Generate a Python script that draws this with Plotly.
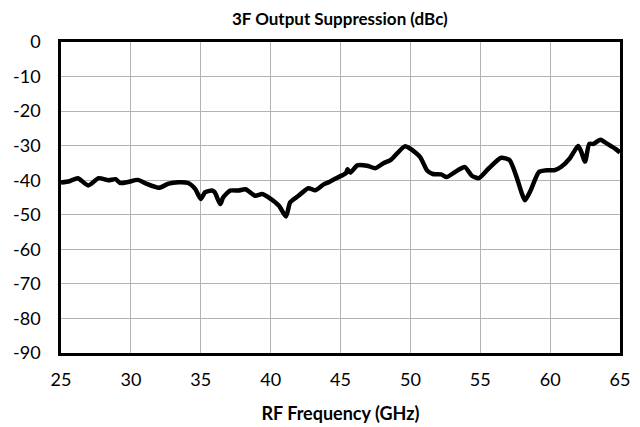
import plotly.graph_objects as go

freq_ghz = [25.0, 25.6, 26.2, 26.95, 27.7, 28.4, 28.9, 29.25, 29.8, 30.5, 31.1, 32.0, 32.7, 33.4,
            34.1, 34.6, 35.0, 35.3, 35.8, 36.0, 36.4, 36.6, 37.1, 37.7, 38.2, 38.9, 39.4, 40.0,
            40.6, 41.1, 41.4, 42.0, 42.7, 43.2, 43.8, 44.2, 44.8, 45.4, 45.5, 45.7, 46.2, 46.9,
            47.5, 48.1, 48.6, 49.6, 50.0, 50.7, 51.2, 51.6, 52.2, 52.6, 53.2, 53.9, 54.4, 54.9,
            55.6, 56.5, 57.1, 57.6, 58.2, 58.6, 59.2, 59.8, 60.3, 60.8, 61.4, 62.0, 62.2, 62.5,
            62.8, 63.1, 63.6, 64.1, 64.7, 65.0]
suppression_dbc = [-40.7, -40.3, -39.4, -41.5, -39.4, -40.0, -39.7, -40.8, -40.5, -39.9, -41.0, -42.2, -41.0, -40.6,
                   -40.8, -42.5, -45.4, -43.5, -43.0, -43.5, -46.9, -45.0, -43.0, -43.0, -42.6, -44.5, -44.0, -45.4,
                   -47.4, -50.5, -46.4, -44.5, -42.3, -42.9, -41.2, -40.5, -39.2, -37.9, -36.8, -37.8, -35.7, -35.8,
                   -36.5, -35.0, -34.1, -30.2, -30.9, -33.3, -37.2, -38.2, -38.3, -39.1, -37.6, -36.2, -38.7, -39.4,
                   -36.6, -33.5, -34.2, -39.1, -45.8, -43.0, -37.6, -37.1, -37.1, -36.1, -33.7, -30.1, -31.5, -34.6,
                   -29.5, -29.5, -28.3, -29.5, -31.0, -32.0]

x_ticks = [25, 30, 35, 40, 45, 50, 55, 60, 65]
y_ticks = [0, -10, -20, -30, -40, -50, -60, -70, -80, -90]

font_family = "Lato, 'Open Sans', sans-serif"

fig = go.Figure()
fig.add_trace(go.Scatter(
    x=freq_ghz, y=suppression_dbc, mode="lines",
    line=dict(color="black", width=4.5, shape="spline", smoothing=0.6),
    showlegend=False,
))

fig.update_layout(
    width=640, height=427,
    margin=dict(l=61, r=20, t=42, b=74),
    paper_bgcolor="white", plot_bgcolor="white",
    font=dict(family=font_family, color="black", size=18),
    title=dict(text="<b>3F Output Suppression (dBc)</b>", x=0.531, xanchor="center",
               y=0.955, yanchor="middle", font=dict(size=17, family=font_family)),
)
fig.update_xaxes(
    range=[25, 65], tickvals=x_ticks, ticktext=[str(v) for v in x_ticks],
    showgrid=True, gridcolor="#b3b3b3", gridwidth=1,
    showline=True, linecolor="black", linewidth=2.5, mirror=True,
    ticks="", ticklabelstandoff=9, zeroline=False, automargin=False,
    title=dict(text="<b>RF Frequency (GHz)</b>", font=dict(size=18), standoff=19),
    tickfont=dict(size=18),
)
fig.update_yaxes(
    range=[-90, 0], tickvals=y_ticks, ticktext=[str(v) for v in y_ticks],
    showgrid=True, gridcolor="#b3b3b3", gridwidth=1,
    showline=True, linecolor="black", linewidth=2.5, mirror=True,
    ticks="", ticklabelstandoff=14, zeroline=False, automargin=False,
    tickfont=dict(size=18),
)

fig.write_html("out.html", config={"displayModeBar": False},
               post_script="document.body.style.margin='0';document.body.style.overflow='hidden';")
